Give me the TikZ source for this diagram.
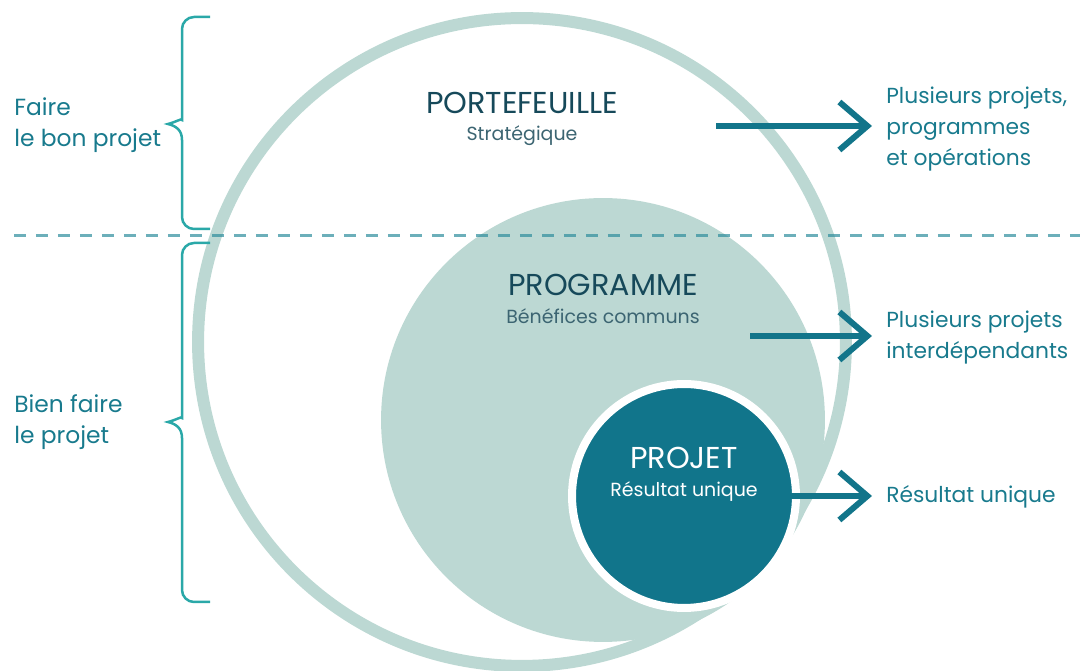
\documentclass[tikz,border=0pt]{standalone}
\usepackage{fontspec}
\setmainfont{Poppins}
\usetikzlibrary{positioning}
\usetikzlibrary{arrows.meta}

\definecolor{ringc}{HTML}{BCD8D3}
\definecolor{projc}{HTML}{11758B}
\definecolor{arrc}{HTML}{12758A}
\definecolor{titc}{HTML}{16495A}
\definecolor{subc}{HTML}{3C6572}
\definecolor{sidec}{HTML}{187A8D}
\definecolor{bracec}{HTML}{2AA8A8}
\definecolor{dashc}{HTML}{2E8D9C}

\tikzset{
  title/.style={font=\fontsize{17.2}{20}\selectfont, text=titc, inner sep=0pt, anchor=base},
  subtitle/.style={font=\fontsize{10.8}{13}\selectfont, text=subc, inner sep=0pt, anchor=base},
  sidetext/.style={font=\fontsize{12.4}{17.6}\selectfont, text=sidec, align=left, anchor=west, inner sep=0pt},
  outarrow/.style={draw=arrc, line width=0.12cm, shorten >=0.28cm,
    -{Straight Barb[length=0.56cm, width=0.96cm, line join=miter]}},
  bracket/.style={draw=bracec, line width=0.05cm},
}

\begin{document}
\begin{tikzpicture}[x=0.02cm, y=-0.02cm]
  % \draw[step=50, gray!20!white, very thin] (0,0) grid (1080,671);
  \useasboundingbox (0,0) rectangle (1080,671);

  % circles
  \node[circle, draw=ringc, line width=0.24cm, minimum size=12.96cm, inner sep=0pt] (n_pf) at (522,342) {};
  \node[circle, fill=ringc, minimum size=8.88cm, inner sep=0pt] (n_prog) at (603,420) {};
  \node[circle, fill=projc, draw=white, line width=0.16cm, minimum size=4.48cm, inner sep=0pt, outer sep=0pt] (n_proj) at (684,496) {};

  \node[title] (t_pf) at (522,114) {PORTEFEUILLE};
  \node[subtitle] (s_pf) at (522,141) {Stratégique};
  \node[title] (t_prog) at (603,296) {PROGRAMME};
  \node[subtitle] (s_prog) at (603,324) {Bénéfices communs};
  \node[title, text=white] (t_proj) at (684,469) {PROJET};
  \node[subtitle, text=white] (s_proj) at (684,497) {Résultat unique};

  % separation line
  \coordinate (d_1) at (14,236);
  \coordinate (d_2) at (1080,236);
  \draw[dashc, opacity=0.7, line width=0.06cm, dash pattern=on 0.24cm off 0.2cm] (d_1) -- (d_2);

  % braces on the left
  \draw[bracket] (210,17) [rounded corners=0.24cm] -- (182,17) -- (182,108) [sharp corners]
    .. controls (182,118) and (176,122) .. (168,124)
    .. controls (176,126) and (182,130) .. (182,140) [rounded corners=0.24cm] -- (182,229) -- (210,229);
  \draw[bracket] (210,243) [rounded corners=0.24cm] -- (182,243) -- (182,406) [sharp corners]
    .. controls (182,416) and (176,420) .. (168,422)
    .. controls (176,424) and (182,428) .. (182,438) [rounded corners=0.24cm] -- (182,602) -- (210,602);

  \node[sidetext, font=\fontsize{13.3}{17.6}\selectfont] (n_l1) at (14,125) {Faire\\le bon projet};
  \node[sidetext, font=\fontsize{13.3}{17.6}\selectfont] (n_l2) at (14,422) {Bien faire\\le projet};

  % outputs on the right
  \node[sidetext] (n_o1) at (886,129) {Plusieurs projets,\\programmes\\et opérations};
  \node[sidetext] (n_o2) at (886,338) {Plusieurs projets\\interdépendants};
  \node[sidetext] (n_o3) at (886,497) {Résultat unique};

  \coordinate (a_1) at (716,126);
  \coordinate (a_2) at (750,336);
  \draw[outarrow] (a_1) -- (a_1 -| n_o1.west);
  \draw[outarrow] (a_2) -- (a_2 -| n_o2.west);
  \draw[outarrow, shorten <=2.14cm] (n_proj.center) -- (n_proj.center -| n_o3.west);

\end{tikzpicture}
\end{document}
